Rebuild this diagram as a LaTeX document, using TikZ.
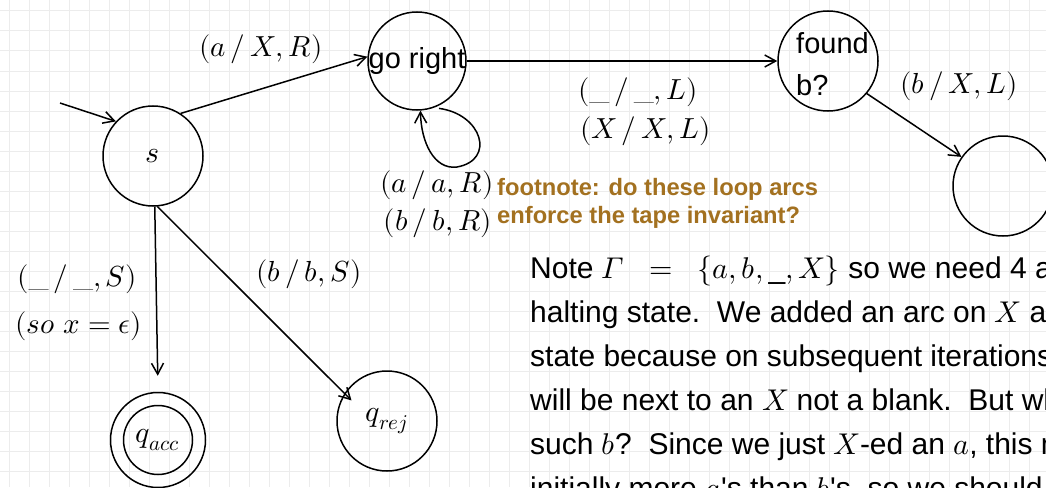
\documentclass[tikz,border=0pt]{standalone}
\usepackage{fontspec}
\usepackage{unicode-math}
\setmainfont{Latin Modern Roman}
\setmathfont{Latin Modern Math}[math-style=ISO]
\newfontfamily\arialf{Liberation Sans}
\usetikzlibrary{arrows.meta,calc}
\definecolor{fnbrown}{RGB}{163,113,32}
\definecolor{gridc}{RGB}{236,236,236}
\begin{document}
\begin{tikzpicture}[x=1pt,y=-1pt,
  stnode/.style={circle,draw,line width=1.5pt,minimum size=100pt,inner sep=0pt,font=\fontsize{30}{34}\selectfont},
  arr/.style={line width=1.5pt,-{Straight Barb[length=11pt,width=12pt,line width=1.5pt]}},
  lbl/.style={font=\fontsize{29}{32}\selectfont,inner sep=0pt},
  sans/.style={font=\arialf\fontsize{29}{42}\selectfont,inner sep=0pt},
  para/.style={font=\arialf\fontsize{30}{30}\selectfont,inner sep=0pt,anchor=base west},
  fn/.style={font=\arialf\bfseries\fontsize{23.7}{28}\selectfont,text=fnbrown,inner sep=0pt,anchor=base west}]
\useasboundingbox (0,0) rectangle (1046,487);
\clip (0,0) rectangle (1046,487);
\fill[white] (0,0) rectangle (1046,487);
\foreach \i in {0,...,52} \draw[gridc,line width=1pt] (9+20*\i,0) -- (9+20*\i,487);
\foreach \j in {0,...,24} \draw[gridc,line width=1pt] (0,11+20*\j) -- (1046,11+20*\j);

% states
\node[stnode] (s) at (153,156) {$s$};
\node[stnode,minimum size=98pt,label={[sans]center:go right}] (gr) at (417,61) {};
\node[stnode] (fb) at (828,61) {};
\node[sans,anchor=base west,align=left] (fbt) at (796,95) {found\\b?};
\node[stnode] (h) at (1003,186) {};
\node[stnode,minimum size=95pt] (qacc) at (158,440) {$q_{acc}$};
\draw[line width=1.5pt] (qacc.center) circle (34.5);
\node[stnode] (qrej) at (387,421) {$q_{rej}$};

% connectors
\coordinate (init) at (60,103);
\draw[arr] (init) -- (s.137);
\draw[arr] (s.57) -- (gr.175);
\draw[arr] (gr.east) -- (fb.west);
\draw[arr,shorten <=5pt] (gr.-70) .. controls (482,114) and (496,160) .. (457,167)
   .. controls (434,170) and (421,142) .. (gr.-86);
\draw[arr] (fb.-40) -- (h.145);
\draw[arr,shorten >=16pt] (s.-88) -- (qacc.north);
\draw[arr,shorten >=-10pt] (s.-85) -- (qrej.147);

% labels
\node[lbl] at (261,49) {$(a\,/\,X, R)$};
\node[lbl,anchor=west] at (578,92) {$(\_\,/\,\_, L)$};
\node[lbl,anchor=west] at (580,131) {$(X\,/\,X, L)$};
\node[lbl] at (959,86) {$(b\,/\,X, L)$};
\node[lbl] at (437,185) {$(a\,/\,a, R)$};
\node[lbl] at (438,223) {$(b\,/\,b, R)$};
\node[fn] at (497,195) {footnote: do these loop arcs};
\node[fn] at (497,223) {enforce the tape invariant?};
\node[lbl] at (309,274) {$(b\,/\,b, S)$};
\node[lbl,anchor=east] at (137,279) {$(\_\,/\,\_, S)$};
\node[lbl,anchor=east] at (142,326) {$(so\ x = \epsilon)$};

% paragraph
\node[para] at (530,278) {Note $\Gamma\;\;=\;\;\{a, b, \_, X\}$ so we need 4 arcs out of each non-};
\node[para] at (530,322) {halting state.\ \ We added an arc on $X$ at the go right};
\node[para] at (530,366) {state because on subsequent iterations the};
\node[para] at (530,410) {will be next to an $X$ not a blank.\ \ But what if there is no};
\node[para] at (530,454) {such $b$?\ \ Since we just $X$-ed an $a$, this means there were};
\node[para] at (530,498) {initially more $a$'s than $b$'s, so we should reject.};
\end{tikzpicture}
\end{document}
